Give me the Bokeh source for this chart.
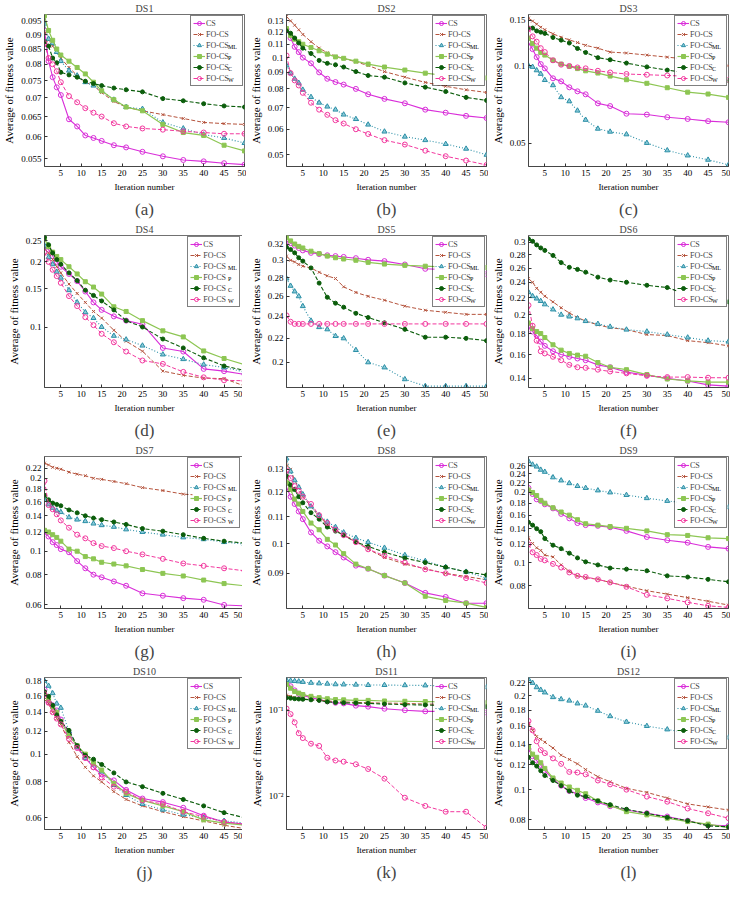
import math
from bokeh.plotting import figure
from bokeh.layouts import gridplot
from bokeh.models import (Range1d, FixedTicker, CustomJSTickFormatter, Legend,
                          LegendItem, Title)
from bokeh.core.properties import value
from bokeh.embed import file_html
from bokeh.resources import INLINE

# ---------------- data ----------------
ITER = [1, 2, 3, 4, 5, 7, 9, 11, 13, 15, 18, 21, 25, 30, 35, 40, 45, 50]
X_TICKS = [5, 10, 15, 20, 25, 30, 35, 40, 45, 50]
LEGEND_MAIN = ["CS", "FO-CS", "FO-CS", "FO-CS", "FO-CS", "FO-CS"]
LEGEND_SUB = ["", "", "ML", "P", "C", "W"]
TITLES = ["DS1", "DS2", "DS3", "DS4", "DS5", "DS6", "DS7", "DS8", "DS9", "DS10", "DS11", "DS12"]
CAPTIONS = ["(a)", "(b)", "(c)", "(d)", "(e)", "(f)", "(g)", "(h)", "(i)", "(j)", "(k)", "(l)"]

ds1_cs = [0.0915, 0.081, 0.076, 0.073, 0.0708, 0.0643, 0.0625, 0.0603, 0.0597, 0.059, 0.058, 0.0575, 0.0565, 0.0555, 0.0547, 0.0544, 0.054, 0.0537]
ds1_fo = [0.091, 0.088, 0.086, 0.084, 0.082, 0.079, 0.0765, 0.0745, 0.0735, 0.0715, 0.069, 0.0675, 0.0665, 0.0655, 0.0645, 0.0635, 0.0632, 0.063]
ds1_ml = [0.094, 0.0885, 0.087, 0.084, 0.081, 0.078, 0.0765, 0.0745, 0.0735, 0.072, 0.0695, 0.0675, 0.067, 0.0635, 0.062, 0.0605, 0.0597, 0.0585]
ds1_p = [0.097, 0.0915, 0.088, 0.085, 0.083, 0.081, 0.079, 0.077, 0.0745, 0.072, 0.0695, 0.0675, 0.0665, 0.063, 0.061, 0.0603, 0.058, 0.0567]
ds1_c = [0.0875, 0.086, 0.082, 0.0805, 0.0775, 0.0767, 0.076, 0.0748, 0.0741, 0.0735, 0.0728, 0.0723, 0.0717, 0.0698, 0.0692, 0.0684, 0.0678, 0.0675]
ds1_w = [0.087, 0.082, 0.080, 0.0778, 0.0745, 0.0705, 0.0688, 0.0672, 0.066, 0.065, 0.0633, 0.0625, 0.062, 0.0617, 0.0613, 0.061, 0.0607, 0.0607]

ds2_cs = [0.1225, 0.115, 0.108, 0.104, 0.100, 0.096, 0.090, 0.086, 0.084, 0.0825, 0.080, 0.077, 0.0745, 0.0722, 0.069, 0.0675, 0.066, 0.065]
ds2_fo = [0.134, 0.130, 0.126, 0.122, 0.118, 0.112, 0.107, 0.1035, 0.101, 0.0995, 0.097, 0.0945, 0.0905, 0.087, 0.0838, 0.0815, 0.0795, 0.078]
ds2_ml = [0.0945, 0.0895, 0.086, 0.0835, 0.0795, 0.0755, 0.0725, 0.0705, 0.069, 0.0666, 0.0645, 0.062, 0.059, 0.0569, 0.0555, 0.054, 0.0522, 0.050]
ds2_p = [0.123, 0.117, 0.114, 0.112, 0.110, 0.1075, 0.105, 0.1025, 0.1005, 0.0995, 0.0975, 0.0955, 0.0935, 0.0915, 0.0895, 0.088, 0.087, 0.0865]
ds2_c = [0.121, 0.119, 0.115, 0.111, 0.107, 0.103, 0.098, 0.096, 0.095, 0.0935, 0.0905, 0.088, 0.087, 0.0835, 0.081, 0.0785, 0.0753, 0.0737]
ds2_w = [0.1015, 0.0895, 0.085, 0.082, 0.0778, 0.0725, 0.069, 0.0665, 0.064, 0.0625, 0.060, 0.058, 0.0555, 0.0538, 0.0515, 0.0495, 0.048, 0.0465]

ds3_cs = [0.123, 0.116, 0.108, 0.1015, 0.0977, 0.0894, 0.087, 0.0825, 0.0796, 0.0775, 0.0715, 0.0698, 0.0652, 0.0647, 0.0632, 0.0622, 0.061, 0.0604]
ds3_fo = [0.153, 0.149, 0.145, 0.141, 0.138, 0.133, 0.129, 0.126, 0.123, 0.12, 0.117, 0.113, 0.112, 0.11, 0.108, 0.106, 0.103, 0.1]
ds3_ml = [0.100, 0.099, 0.096, 0.093, 0.088, 0.084, 0.0755, 0.0728, 0.067, 0.0617, 0.057, 0.0555, 0.0542, 0.0502, 0.047, 0.0449, 0.0432, 0.0413]
ds3_p = [0.128, 0.122, 0.117, 0.1125, 0.11, 0.105, 0.1015, 0.0995, 0.0975, 0.0956, 0.0937, 0.0912, 0.0883, 0.0855, 0.0822, 0.079, 0.0777, 0.0754]
ds3_c = [0.14, 0.14, 0.1365, 0.135, 0.1335, 0.1287, 0.1257, 0.1225, 0.1167, 0.1126, 0.1075, 0.1055, 0.1024, 0.099, 0.0962, 0.0937, 0.091, 0.0875]
ds3_w = [0.139, 0.13, 0.124, 0.117, 0.113, 0.105, 0.101, 0.0998, 0.0985, 0.0977, 0.0956, 0.0942, 0.0929, 0.0923, 0.0917, 0.091, 0.0898, 0.0883]

ds4_cs = [0.235, 0.228, 0.213, 0.2, 0.19, 0.176, 0.163, 0.146, 0.13, 0.12, 0.112, 0.107, 0.103, 0.08, 0.077, 0.064, 0.0625, 0.0604]
ds4_fo = [0.23, 0.22, 0.205, 0.19, 0.178, 0.158, 0.143, 0.13, 0.118, 0.11, 0.0966, 0.086, 0.0773, 0.0625, 0.0598, 0.058, 0.0577, 0.0534]
ds4_ml = [0.238, 0.21, 0.195, 0.18, 0.169, 0.148, 0.13, 0.117, 0.11, 0.1, 0.091, 0.0875, 0.082, 0.0746, 0.071, 0.067, 0.065, 0.062]
ds4_p = [0.255, 0.235, 0.222, 0.212, 0.205, 0.19, 0.176, 0.162, 0.153, 0.142, 0.124, 0.118, 0.107, 0.096, 0.09, 0.0775, 0.0715, 0.067]
ds4_c = [0.26, 0.24, 0.22, 0.205, 0.195, 0.178, 0.164, 0.148, 0.14, 0.132, 0.12, 0.107, 0.1, 0.088, 0.08, 0.072, 0.066, 0.063]
ds4_w = [0.222, 0.2, 0.184, 0.172, 0.16, 0.139, 0.125, 0.111, 0.102, 0.093, 0.085, 0.077, 0.07, 0.0675, 0.062, 0.0585, 0.0567, 0.0564]

ds5_cs = [0.324, 0.321, 0.318, 0.315, 0.312, 0.309, 0.3075, 0.306, 0.305, 0.304, 0.3025, 0.3005, 0.299, 0.295, 0.29, 0.289, 0.2885, 0.284]
ds5_fo = [0.305, 0.3, 0.298, 0.295, 0.293, 0.291, 0.286, 0.282, 0.279, 0.27, 0.264, 0.26, 0.256, 0.25, 0.246, 0.244, 0.242, 0.242]
ds5_ml = [0.279, 0.271, 0.265, 0.26, 0.25, 0.236, 0.23, 0.228, 0.222, 0.22, 0.21, 0.2, 0.196, 0.187, 0.182, 0.182, 0.182, 0.182]
ds5_p = [0.328, 0.324, 0.32, 0.317, 0.315, 0.311, 0.308, 0.305, 0.303, 0.3015, 0.3, 0.2975, 0.2955, 0.294, 0.293, 0.292, 0.292, 0.2915]
ds5_c = [0.316, 0.313, 0.309, 0.303, 0.299, 0.291, 0.274, 0.259, 0.253, 0.249, 0.243, 0.239, 0.234, 0.228, 0.221, 0.221, 0.22, 0.218]
ds5_w = [0.241, 0.235, 0.233, 0.233, 0.233, 0.233, 0.233, 0.233, 0.233, 0.233, 0.233, 0.233, 0.233, 0.233, 0.233, 0.233, 0.233, 0.233]

ds6_cs = [0.187, 0.182, 0.178, 0.172, 0.168, 0.163, 0.16, 0.158, 0.1565, 0.155, 0.151, 0.149, 0.145, 0.1425, 0.14, 0.138, 0.135, 0.134]
ds6_fo = [0.245, 0.24, 0.232, 0.227, 0.222, 0.215, 0.208, 0.202, 0.197, 0.193, 0.189, 0.186, 0.184, 0.179, 0.178, 0.173, 0.171, 0.168]
ds6_ml = [0.227, 0.222, 0.219, 0.216, 0.212, 0.206, 0.2, 0.198, 0.196, 0.193, 0.19, 0.187, 0.184, 0.182, 0.179, 0.176, 0.173, 0.172]
ds6_p = [0.191, 0.185, 0.182, 0.18, 0.176, 0.169, 0.164, 0.161, 0.1595, 0.1585, 0.153, 0.149, 0.147, 0.143, 0.1395, 0.138, 0.137, 0.137]
ds6_c = [0.306, 0.302, 0.296, 0.291, 0.287, 0.279, 0.268, 0.261, 0.258, 0.254, 0.247, 0.243, 0.24, 0.236, 0.233, 0.224, 0.219, 0.215]
ds6_w = [0.211, 0.188, 0.173, 0.163, 0.161, 0.158, 0.155, 0.151, 0.149, 0.1485, 0.147, 0.1455, 0.144, 0.142, 0.141, 0.141, 0.1405, 0.1405]

ds7_cs = [0.12, 0.115, 0.109, 0.106, 0.102, 0.099, 0.091, 0.085, 0.08, 0.078, 0.075, 0.072, 0.067, 0.0655, 0.064, 0.063, 0.06, 0.0595]
ds7_fo = [0.231, 0.227, 0.222, 0.22, 0.218, 0.212, 0.208, 0.205, 0.2, 0.198, 0.194, 0.19, 0.183, 0.178, 0.172, 0.17, 0.168, 0.163]
ds7_ml = [0.163, 0.156, 0.151, 0.147, 0.145, 0.138, 0.135, 0.133, 0.13, 0.128, 0.126, 0.123, 0.12, 0.117, 0.114, 0.112, 0.109, 0.107]
ds7_p = [0.122, 0.12, 0.117, 0.114, 0.11, 0.102, 0.1, 0.095, 0.093, 0.09, 0.0885, 0.087, 0.084, 0.081, 0.079, 0.076, 0.0735, 0.072]
ds7_c = [0.17, 0.163, 0.158, 0.156, 0.154, 0.148, 0.144, 0.14, 0.137, 0.135, 0.132, 0.129, 0.124, 0.121, 0.117, 0.113, 0.11, 0.108]
ds7_w = [0.195, 0.155, 0.149, 0.142, 0.134, 0.125, 0.117, 0.113, 0.108, 0.105, 0.103, 0.1, 0.097, 0.093, 0.089, 0.087, 0.085, 0.083]

ds8_cs = [0.122, 0.118, 0.115, 0.112, 0.109, 0.104, 0.101, 0.099, 0.097, 0.0952, 0.0925, 0.0915, 0.0893, 0.087, 0.084, 0.0828, 0.081, 0.081]
ds8_fo = [0.132, 0.13, 0.125, 0.122, 0.118, 0.114, 0.11, 0.107, 0.105, 0.103, 0.101, 0.098, 0.0952, 0.093, 0.0915, 0.09, 0.089, 0.088]
ds8_ml = [0.135, 0.129, 0.125, 0.122, 0.119, 0.114, 0.1105, 0.108, 0.106, 0.104, 0.102, 0.1005, 0.0985, 0.096, 0.094, 0.092, 0.0905, 0.0885]
ds8_p = [0.124, 0.121, 0.117, 0.115, 0.112, 0.1075, 0.105, 0.1015, 0.0995, 0.0965, 0.093, 0.0915, 0.0893, 0.087, 0.083, 0.0818, 0.081, 0.0798]
ds8_c = [0.127, 0.123, 0.121, 0.118, 0.1155, 0.1115, 0.109, 0.106, 0.1045, 0.103, 0.1005, 0.099, 0.097, 0.095, 0.0935, 0.092, 0.0905, 0.0895]
ds8_w = [0.1295, 0.126, 0.1225, 0.1205, 0.118, 0.115, 0.1105, 0.1075, 0.105, 0.103, 0.1005, 0.098, 0.0958, 0.0935, 0.0913, 0.09, 0.0885, 0.087]

ds9_cs = [0.209, 0.197, 0.187, 0.184, 0.178, 0.171, 0.162, 0.155, 0.148, 0.145, 0.144, 0.142, 0.137, 0.129, 0.125, 0.122, 0.117, 0.115]
ds9_fo = [0.128, 0.121, 0.116, 0.113, 0.108, 0.106, 0.098, 0.092, 0.088, 0.0865, 0.085, 0.0825, 0.0795, 0.076, 0.0735, 0.071, 0.0685, 0.066]
ds9_ml = [0.272, 0.263, 0.258, 0.25, 0.245, 0.232, 0.225, 0.219, 0.213, 0.209, 0.204, 0.2, 0.195, 0.189, 0.184, 0.18, 0.177, 0.173]
ds9_p = [0.205, 0.2, 0.194, 0.185, 0.18, 0.172, 0.165, 0.16, 0.153, 0.147, 0.145, 0.143, 0.1405, 0.137, 0.132, 0.131, 0.128, 0.127]
ds9_c = [0.149, 0.145, 0.14, 0.136, 0.127, 0.119, 0.115, 0.11, 0.105, 0.101, 0.098, 0.095, 0.094, 0.0925, 0.088, 0.087, 0.085, 0.083]
ds9_w = [0.12, 0.111, 0.108, 0.104, 0.1025, 0.099, 0.0955, 0.091, 0.088, 0.087, 0.085, 0.0825, 0.079, 0.073, 0.0705, 0.0678, 0.0655, 0.0645]

ds10_cs = [0.168, 0.152, 0.148, 0.142, 0.132, 0.118, 0.106, 0.097, 0.09, 0.085, 0.081, 0.075, 0.07, 0.068, 0.065, 0.061, 0.058, 0.057]
ds10_fo = [0.155, 0.15, 0.14, 0.133, 0.127, 0.11, 0.098, 0.09, 0.084, 0.08, 0.074, 0.0695, 0.066, 0.063, 0.0605, 0.0585, 0.0565, 0.055]
ds10_ml = [0.18, 0.173, 0.163, 0.15, 0.145, 0.12, 0.106, 0.097, 0.092, 0.087, 0.078, 0.072, 0.067, 0.064, 0.0615, 0.06, 0.0585, 0.0575]
ds10_p = [0.163, 0.155, 0.146, 0.14, 0.13, 0.116, 0.107, 0.1, 0.093, 0.088, 0.079, 0.073, 0.069, 0.066, 0.063, 0.059, 0.0575, 0.0565]
ds10_c = [0.165, 0.159, 0.148, 0.137, 0.13, 0.121, 0.107, 0.099, 0.096, 0.092, 0.086, 0.08, 0.077, 0.073, 0.0695, 0.066, 0.0625, 0.06]
ds10_w = [0.162, 0.151, 0.14, 0.133, 0.127, 0.113, 0.105, 0.097, 0.09, 0.083, 0.077, 0.074, 0.069, 0.067, 0.063, 0.0605, 0.058, 0.057]

ds11_cs = [0.205, 0.19, 0.17, 0.155, 0.148, 0.14, 0.133, 0.127, 0.122, 0.12, 0.113, 0.11, 0.104, 0.1, 0.097, 0.097, 0.096, 0.094]
ds11_fo = [0.15, 0.145, 0.14, 0.137, 0.135, 0.132, 0.13, 0.128, 0.126, 0.125, 0.123, 0.122, 0.121, 0.12, 0.118, 0.117, 0.116, 0.115]
ds11_ml = [0.224, 0.22, 0.218, 0.216, 0.213, 0.208, 0.205, 0.203, 0.2, 0.199, 0.198, 0.196, 0.196, 0.195, 0.194, 0.192, 0.19, 0.185]
ds11_p = [0.2, 0.18, 0.165, 0.158, 0.152, 0.145, 0.14, 0.136, 0.133, 0.132, 0.13, 0.13, 0.128, 0.127, 0.126, 0.125, 0.124, 0.122]
ds11_c = [0.14, 0.138, 0.136, 0.135, 0.134, 0.132, 0.13, 0.125, 0.123, 0.122, 0.121, 0.12, 0.118, 0.116, 0.115, 0.113, 0.11, 0.11]
ds11_w = [0.1045, 0.09, 0.0722, 0.054, 0.0474, 0.0408, 0.0384, 0.028, 0.026, 0.0252, 0.0235, 0.0207, 0.016, 0.0096, 0.0077, 0.0066, 0.0066, 0.0043]

ds12_cs = [0.135, 0.128, 0.124, 0.12, 0.115, 0.108, 0.103, 0.099, 0.097, 0.094, 0.091, 0.0885, 0.086, 0.084, 0.082, 0.0795, 0.077, 0.0765]
ds12_fo = [0.163, 0.155, 0.148, 0.145, 0.142, 0.136, 0.129, 0.125, 0.121, 0.116, 0.11, 0.106, 0.101, 0.098, 0.094, 0.09, 0.088, 0.086]
ds12_ml = [0.226, 0.22, 0.213, 0.209, 0.205, 0.198, 0.195, 0.193, 0.189, 0.186, 0.179, 0.172, 0.165, 0.16, 0.156, 0.152, 0.15, 0.147]
ds12_p = [0.137, 0.13, 0.127, 0.122, 0.117, 0.109, 0.105, 0.102, 0.0995, 0.097, 0.092, 0.089, 0.085, 0.083, 0.081, 0.079, 0.0775, 0.0755]
ds12_c = [0.127, 0.122, 0.119, 0.115, 0.111, 0.107, 0.103, 0.099, 0.096, 0.095, 0.092, 0.0895, 0.0865, 0.084, 0.0815, 0.0795, 0.0765, 0.076]
ds12_w = [0.166, 0.155, 0.143, 0.134, 0.131, 0.126, 0.121, 0.114, 0.1135, 0.112, 0.107, 0.104, 0.1, 0.095, 0.0915, 0.087, 0.084, 0.081]

Y_RANGES = [(0.0533, 0.0975), (0.046, 0.136), (0.0407, 0.158), (0.0525, 0.265),
            (0.181, 0.331), (0.133, 0.312), (0.058, 0.246), (0.0795, 0.136),
            (0.0638, 0.285), (0.0546, 0.185), (0.0041, 0.24), (0.0745, 0.229)]
Y_TICKS = [
    [0.055, 0.06, 0.065, 0.07, 0.075, 0.08, 0.085, 0.09, 0.095],
    [0.05, 0.06, 0.07, 0.08, 0.09, 0.1, 0.11, 0.12, 0.13],
    [0.05, 0.1, 0.15],
    [0.1, 0.15, 0.2, 0.25],
    [0.2, 0.22, 0.24, 0.26, 0.28, 0.3, 0.32],
    [0.14, 0.16, 0.18, 0.2, 0.22, 0.24, 0.26, 0.28, 0.3],
    [0.06, 0.08, 0.1, 0.12, 0.14, 0.16, 0.18, 0.2, 0.22],
    [0.09, 0.1, 0.11, 0.12, 0.13],
    [0.08, 0.1, 0.12, 0.14, 0.16, 0.18, 0.2, 0.22, 0.24, 0.26],
    [0.06, 0.08, 0.1, 0.12, 0.14, 0.16, 0.18],
    [0.01, 0.1],
    [0.08, 0.1, 0.12, 0.14, 0.16, 0.18, 0.2, 0.22],
]

PANEL_SERIES = [
    [ds1_cs, ds1_fo, ds1_ml, ds1_p, ds1_c, ds1_w],
    [ds2_cs, ds2_fo, ds2_ml, ds2_p, ds2_c, ds2_w],
    [ds3_cs, ds3_fo, ds3_ml, ds3_p, ds3_c, ds3_w],
    [ds4_cs, ds4_fo, ds4_ml, ds4_p, ds4_c, ds4_w],
    [ds5_cs, ds5_fo, ds5_ml, ds5_p, ds5_c, ds5_w],
    [ds6_cs, ds6_fo, ds6_ml, ds6_p, ds6_c, ds6_w],
    [ds7_cs, ds7_fo, ds7_ml, ds7_p, ds7_c, ds7_w],
    [ds8_cs, ds8_fo, ds8_ml, ds8_p, ds8_c, ds8_w],
    [ds9_cs, ds9_fo, ds9_ml, ds9_p, ds9_c, ds9_w],
    [ds10_cs, ds10_fo, ds10_ml, ds10_p, ds10_c, ds10_w],
    [ds11_cs, ds11_fo, ds11_ml, ds11_p, ds11_c, ds11_w],
    [ds12_cs, ds12_fo, ds12_ml, ds12_p, ds12_c, ds12_w],
]

# ---------------- styles ----------------
STYLES = [
    dict(color="#D92ED9", dash="solid", marker="circle", size=5, fill=None, width=1.1),
    dict(color="#B5533C", dash="4 2", marker="x", size=4, fill=None, width=1.0),
    dict(color="#2B8FA6", dash="1 2", marker="triangle", size=5, fill="#8CCAD8", width=1.1),
    dict(color="#8DC653", dash="solid", marker="square", size=4, fill="#8DC653", width=1.2),
    dict(color="#0B5D0B", dash="4 2", marker="circle", size=4, fill="#0B5D0B", width=1.1),
    dict(color="#F2379E", dash="4 2", marker="circle", size=5, fill=None, width=1.0),
]

SERIF = "Liberation Serif"
FW, FH = 200, 152
X0, X1 = 1, 50

# legend geometry (pixels)
LG_MARGIN, LG_PAD, LG_SPACING = 1, 2, 1
LG_GLYPH_W, LG_ITEM_H, LG_LABEL_W, LG_STANDOFF = 12, 10, 34, 1
LG_FONT = 8
MAIN_TEXT_W = 20.5  # width of "FO-CS" at 8px serif
N_ITEMS = len(LEGEND_MAIN)


def px_to_x(px):
    return X0 + (X1 - X0) * px / FW


figs = []
for k in range(12):
    ylo, yhi = Y_RANGES[k]
    lyhi, lylo = math.log(yhi), math.log(ylo)

    def py_to_y(py):
        return math.exp(lyhi - (lyhi - lylo) * py / FH)

    p = figure(frame_width=FW, frame_height=FH, y_axis_type="log",
               x_range=Range1d(X0, X1), y_range=Range1d(ylo, yhi),
               output_backend="svg", toolbar_location=None,
               min_border_left=40, min_border_right=2, min_border_top=2, min_border_bottom=2)
    p.title.text = TITLES[k]
    p.title.align = "center"
    p.title.text_font = SERIF
    p.title.text_font_size = "10px"
    p.title.text_font_style = "normal"
    p.title.standoff = 1
    p.grid.visible = False
    p.outline_line_color = "#333333"
    p.outline_line_width = 0.7
    p.background_fill_color = "white"

    p.xaxis.ticker = FixedTicker(ticks=X_TICKS)
    p.yaxis.ticker = FixedTicker(ticks=Y_TICKS[k])
    if k == 10:
        p.yaxis.formatter = CustomJSTickFormatter(
            code="return tick > 0.05 ? '10\u207b\u00b9' : '10\u207b\u00b2';")
    else:
        p.yaxis.formatter = CustomJSTickFormatter(
            code="return String(parseFloat(tick.toPrecision(3)));")
    for ax in (p.xaxis[0], p.yaxis[0]):
        ax.major_tick_in = 3
        ax.major_tick_out = 0
        ax.minor_tick_line_color = None
        ax.axis_line_color = "#333333"
        ax.axis_line_width = 0.7
        ax.major_tick_line_color = "#333333"
        ax.major_label_text_font = SERIF
        ax.major_label_text_font_size = "9px"
        ax.major_label_text_color = "black"
        ax.major_label_standoff = 3
        ax.axis_label_text_font = SERIF
        ax.axis_label_text_font_style = "normal"
        ax.axis_label_text_color = "black"
        ax.axis_label_standoff = 3
    p.xaxis.axis_label = "Iteration number"
    p.xaxis.axis_label_text_font_size = "9px"
    p.yaxis.axis_label = "Average of fitness value"
    p.yaxis.axis_label_text_font_size = "11px"

    items = []
    for s, (vals, st) in enumerate(zip(PANEL_SERIES[k], STYLES)):
        lr = p.line(ITER, vals, line_color=st["color"], line_width=st["width"],
                    line_dash=st["dash"])
        sr = p.scatter(ITER, vals, marker=st["marker"], size=st["size"],
                       line_color=st["color"], line_width=1.0,
                       fill_color=st["fill"], fill_alpha=1.0 if st["fill"] else 0)
        items.append(LegendItem(label=LEGEND_MAIN[s], renderers=[lr, sr]))

    # legend box geometry (pixels inside the frame)
    lg_w = 2 * LG_PAD + LG_GLYPH_W + LG_STANDOFF + LG_LABEL_W
    lg_h = 2 * LG_PAD + N_ITEMS * LG_ITEM_H + (N_ITEMS - 1) * LG_SPACING
    lg_left = FW - LG_MARGIN - lg_w
    lg_top = LG_MARGIN

    # white backing of the legend, drawn above the curves
    p.quad(left=[px_to_x(lg_left)], right=[px_to_x(FW - LG_MARGIN)],
           top=[py_to_y(lg_top)], bottom=[py_to_y(lg_top + lg_h + 0.5)],
           fill_color="white", line_color=None)

    # subscripts of the legend labels
    text_x = lg_left + LG_PAD + LG_GLYPH_W + LG_STANDOFF + MAIN_TEXT_W
    sx, sy, st_txt = [], [], []
    for s, sub in enumerate(LEGEND_SUB):
        if not sub:
            continue
        cy = lg_top + LG_PAD + s * (LG_ITEM_H + LG_SPACING) + LG_ITEM_H / 2 + 2.5
        sx.append(px_to_x(text_x))
        sy.append(py_to_y(cy))
        st_txt.append(sub)
    p.text(x=sx, y=sy, text=st_txt, text_font=value(SERIF),
           text_font_size="6px", text_baseline="middle", text_align="left",
           text_color="black")

    legend = Legend(items=items, location="top_right", margin=LG_MARGIN,
                    padding=LG_PAD, spacing=LG_SPACING, glyph_width=LG_GLYPH_W,
                    glyph_height=LG_ITEM_H, label_height=LG_ITEM_H,
                    label_width=LG_LABEL_W, label_standoff=LG_STANDOFF,
                    label_text_font=SERIF, label_text_font_size=f"{LG_FONT}px",
                    label_text_baseline="middle",
                    border_line_color="black", border_line_width=0.7,
                    background_fill_alpha=0.0)
    p.add_layout(legend)

    cap = Title(text=CAPTIONS[k], align="center", text_font=SERIF,
                text_font_size="17px", text_font_style="normal", standoff=6)
    p.add_layout(cap, "below")
    figs.append(p)

grid = gridplot([figs[i:i + 3] for i in range(0, 12, 3)], toolbar_location=None)
open("out.html", "w").write(file_html(grid, INLINE))
